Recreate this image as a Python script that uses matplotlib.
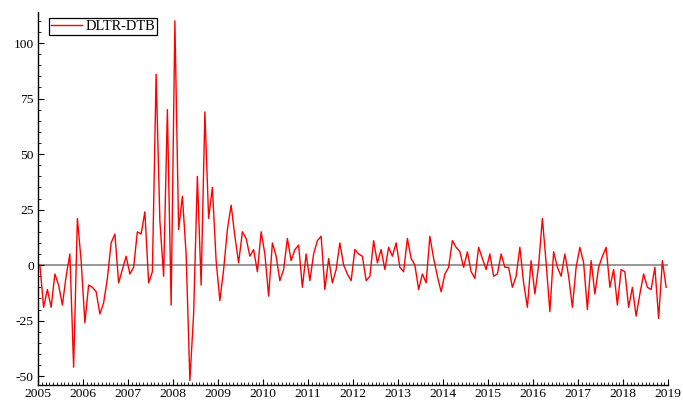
import numpy as np
import matplotlib
matplotlib.use("Agg")
import matplotlib.pyplot as plt
from matplotlib.ticker import MultipleLocator

#### datos mensuales (DLTR-DTB), enero 2005 - diciembre 2018
v2005 = [0, -19, -11, -19, -4, -9, -18, -5, 5, -46, 21, 2]
v2006 = [-26, -9, -10, -12, -22, -17, -6, 10, 14, -8, -2, 4]
v2007 = [-4, -1, 15, 14, 24, -8, -3, 86, 20, -5, 70, -18]
v2008 = [110, 16, 31, 5, -52, -22, 40, -9, 69, 21, 35, 2]
v2009 = [-16, -2, 16, 27, 13, 1, 15, 12, 4, 7, -3, 15]
v2010 = [5, -14, 10, 4, -7, -2, 12, 2, 7, 9, -10, 5]
v2011 = [-7, 5, 11, 13, -11, 3, -8, -2, 10, 0, -4, -7]
v2012 = [7, 5, 4, -7, -5, 11, 1, 7, -2, 8, 4, 10]
v2013 = [-1, -3, 12, 3, 0, -11, -4, -8, 13, 3, -5, -12]
v2014 = [-4, -1, 11, 8, 6, -1, 6, -3, -6, 8, 3, -2]
v2015 = [5, -5, -4, 5, -1, -1, -10, -5, 8, -8, -19, 2]
v2016 = [-13, 0, 21, 1, -21, 6, -1, -5, 5, -5, -19, -1]
v2017 = [8, 1, -20, 2, -13, -1, 4, 8, -10, -2, -18, -2]
v2018 = [-3, -19, -10, -23, -13, -4, -10, -11, -1, -24, 2, -10]

serie = np.concatenate([v2005, v2006, v2007, v2008, v2009, v2010, v2011,
                        v2012, v2013, v2014, v2015, v2016, v2017, v2018])
t = 2005 + (np.arange(len(serie)) + 0.5) / 12
years = np.arange(2005, 2020)
yticks = [-50, -25, 0, 25, 50, 75, 100]

plt.rcParams['font.family'] = ['Liberation Serif', 'DejaVu Serif']
plt.rcParams['axes.unicode_minus'] = False

fig = plt.figure(figsize=(6.83, 4.03), dpi=100)
ax = fig.add_axes([38/683, 18/403, 630/683, 373/403])

ax.axhline(0, color='#909090', lw=1.3, zorder=1)
ax.plot(t, serie, color='red', lw=1.0, label='DLTR-DTB', zorder=2)

ax.set_xlim(2005, 2019)
ax.set_ylim(-54, 114)
ax.set_xticks(years)
ax.set_xticklabels([str(y) for y in years])
ax.xaxis.set_minor_locator(MultipleLocator(1/12))
ax.set_yticks(yticks)
ax.yaxis.set_minor_locator(MultipleLocator(5))

for s in ['top', 'right']:
    ax.spines[s].set_visible(False)
for s in ['left', 'bottom']:
    ax.spines[s].set_linewidth(1.0)

ax.tick_params(which='major', direction='in', length=4, width=0.8,
               labelsize=9.7, pad=3)
ax.tick_params(which='minor', direction='in', length=2.2, width=0.6)
ax.tick_params(axis='x', which='major', pad=2)

leg = ax.legend(loc='upper left', bbox_to_anchor=(11/630, 1 - 6/373),
                borderaxespad=0, fontsize=10.4, fancybox=False,
                edgecolor='black', framealpha=1, handlelength=2.1,
                handletextpad=0.25, borderpad=0.15)
leg.get_frame().set_linewidth(0.9)

fig.savefig('out.png', dpi=100)
